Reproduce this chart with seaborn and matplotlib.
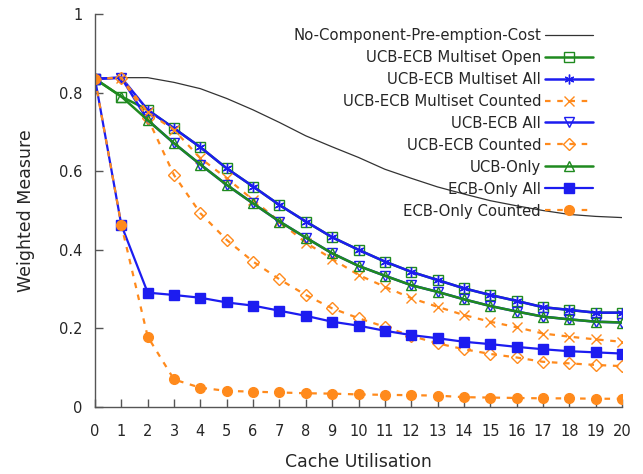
import matplotlib
matplotlib.use("Agg")
import matplotlib.pyplot as plt
import seaborn as sns
import pandas as pd

cache_util = list(range(21))

no_preempt = [0.835, 0.838, 0.838, 0.826, 0.810, 0.785, 0.756, 0.724, 0.690, 0.662, 0.635,
              0.605, 0.582, 0.560, 0.542, 0.525, 0.512, 0.500, 0.490, 0.485, 0.482]
multiset_open = [0.835, 0.790, 0.756, 0.709, 0.661, 0.607, 0.561, 0.514, 0.472, 0.432, 0.400,
                 0.370, 0.344, 0.323, 0.302, 0.285, 0.270, 0.254, 0.247, 0.240, 0.240]
multiset_all = [0.835, 0.838, 0.756, 0.709, 0.661, 0.607, 0.561, 0.514, 0.472, 0.432, 0.400,
                0.370, 0.344, 0.323, 0.302, 0.285, 0.270, 0.254, 0.247, 0.240, 0.240]
multiset_counted = [0.835, 0.838, 0.750, 0.705, 0.633, 0.582, 0.527, 0.472, 0.418, 0.377, 0.336,
                    0.306, 0.277, 0.255, 0.234, 0.217, 0.203, 0.187, 0.179, 0.172, 0.166]
ucb_ecb_all = [0.835, 0.838, 0.730, 0.671, 0.617, 0.565, 0.518, 0.472, 0.431, 0.391, 0.359,
               0.334, 0.310, 0.293, 0.274, 0.257, 0.243, 0.230, 0.223, 0.217, 0.215]
ucb_ecb_counted = [0.835, 0.838, 0.735, 0.590, 0.493, 0.425, 0.370, 0.325, 0.285, 0.251, 0.226,
                   0.204, 0.181, 0.162, 0.147, 0.135, 0.126, 0.115, 0.111, 0.107, 0.104]
ucb_only = [0.835, 0.790, 0.730, 0.671, 0.617, 0.565, 0.518, 0.472, 0.431, 0.391, 0.359,
            0.334, 0.310, 0.293, 0.274, 0.257, 0.243, 0.230, 0.223, 0.217, 0.215]
ecb_only_all = [0.835, 0.463, 0.291, 0.285, 0.278, 0.266, 0.258, 0.245, 0.232, 0.217, 0.207,
                0.194, 0.183, 0.175, 0.166, 0.160, 0.153, 0.147, 0.142, 0.139, 0.136]
ecb_only_counted = [0.835, 0.463, 0.179, 0.070, 0.049, 0.041, 0.039, 0.037, 0.035, 0.034, 0.032,
                    0.031, 0.030, 0.029, 0.025, 0.024, 0.023, 0.022, 0.022, 0.021, 0.021]

y_ticks = [0, 0.2, 0.4, 0.6, 0.8, 1]
y_tick_labels = ["0", "0.2", "0.4", "0.6", "0.8", "1"]

sns.set_style("ticks")
plt.rcParams["font.family"] = ["DejaVu Sans"]

GREEN = "#1f8a1f"
BLUE = "#1c1cf0"
ORANGE = "#ff8a1c"
BLACK = "#333333"

series = [
    ("No-Component-Pre-emption-Cost", no_preempt, BLACK, None, "-", 0.9, False),
    ("UCB-ECB Multiset Open", multiset_open, GREEN, "s", "-", 1.8, False),
    ("UCB-ECB Multiset All", multiset_all, BLUE, (6, 2, 0), "-", 1.8, False),
    ("UCB-ECB Multiset Counted", multiset_counted, ORANGE, "x", (0, (2.5, 3)), 1.6, False),
    ("UCB-ECB All", ucb_ecb_all, BLUE, "v", "-", 1.8, False),
    ("UCB-ECB Counted", ucb_ecb_counted, ORANGE, "D", (0, (2.5, 3)), 1.6, False),
    ("UCB-Only", ucb_only, GREEN, "^", "-", 1.8, False),
    ("ECB-Only All", ecb_only_all, BLUE, "s", "-", 1.6, True),
    ("ECB-Only Counted", ecb_only_counted, ORANGE, "o", (0, (2.5, 3)), 1.6, True),
]

fig = plt.figure(figsize=(6.43, 4.74), dpi=100)
ax = fig.add_axes([95 / 643, 1 - 407 / 474, 527 / 643, 393 / 474])

for label, vals, color, marker, ls, lw, filled in series:
    df = pd.DataFrame({"x": cache_util, "y": vals})
    kws = dict(color=color, linewidth=lw, linestyle=ls, label=label)
    if marker is not None:
        kws["marker"] = marker
        kws["markeredgecolor"] = color
        kws["markeredgewidth"] = 1.0
        if filled:
            kws["markerfacecolor"] = color
            kws["markersize"] = 7
        else:
            kws["markerfacecolor"] = "none"
            kws["markersize"] = 7 if marker != "D" else 6
    sns.lineplot(data=df, x="x", y="y", ax=ax, **kws)

ax.set_xlim(0, 20)
ax.set_ylim(0, 1)
ax.set_xticks(cache_util)
ax.set_xticklabels([str(v) for v in cache_util])
ax.set_yticks(y_ticks)
ax.set_yticklabels(y_tick_labels)
ax.tick_params(direction="in", length=6, width=1, color="#555555", labelsize=10.5)
ax.tick_params(axis="x", pad=12)
ax.tick_params(axis="y", pad=9)
for side in ["top", "right"]:
    ax.spines[side].set_visible(False)
for side in ["left", "bottom"]:
    ax.spines[side].set_color("#555555")
    ax.spines[side].set_linewidth(1.0)

ax.set_xlabel("Cache Utilisation", fontsize=12.5, labelpad=10)
ax.set_ylabel("Weighted Measure", fontsize=12.5, labelpad=17)

leg = ax.legend(loc="upper right", bbox_to_anchor=(0.945, 0.965), frameon=False,
                markerfirst=False, fontsize=10.7, handlelength=3.2, handletextpad=0.3,
                labelspacing=0.47, borderpad=0, borderaxespad=0)

fig.savefig("out.png", dpi=100)
